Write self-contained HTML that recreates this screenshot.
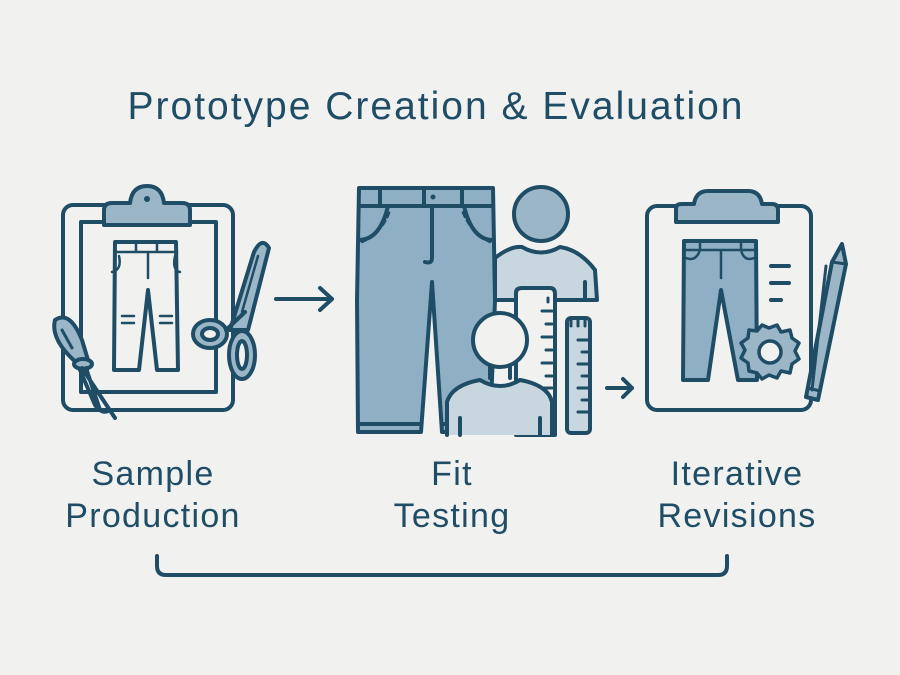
<!DOCTYPE html>
<html><head><style>
html,body{margin:0;padding:0;background:#f1f1f0;}
svg{display:block}
text{font-family:"Liberation Sans",sans-serif;fill:#1f4d66}
</style></head><body>
<svg width="900" height="675" viewBox="0 0 900 675" xmlns="http://www.w3.org/2000/svg">
<rect width="900" height="675" fill="#f1f1f0"/>
<text x="436" y="119" font-size="39" letter-spacing="2" text-anchor="middle">Prototype Creation &amp; Evaluation</text>
<g stroke="#1f4d66" stroke-width="4" stroke-linejoin="round" stroke-linecap="round" fill="none">
<!-- clipboard 1 -->
<rect x="63" y="205" width="170" height="205" rx="10" fill="#f1f1f0"/>
<rect x="81" y="222" width="135" height="170" fill="#f1f1f0"/>
<path d="M104 225 V210 Q104 203 112 203 H130 Q132 186 147 186 Q162 186 164 203 H182 Q190 203 190 210 V225 Z" fill="#9ab6c7"/>
<circle cx="147" cy="199" r="3" fill="#1f4d66" stroke="none"/>
<path d="M115 242 H176 L178 370 H157 L148 290 L139 370 H114 Z" fill="#f1f1f0"/>
<path d="M115 252 H177 M136 242 V252 M157 242 V252 M148 252 V278 M119 256 Q122 270 112 272 M175 256 Q172 270 180 272" stroke-width="2.5"/>
<path d="M122 316 H134 M122 323 H134 M160 316 H172 M160 323 H172" stroke-width="2.5"/>
<!-- scissors -->
<path d="M230 330 L254 252 Q262 236 269 248 L248 330 Z" fill="#9ab6c7"/>
<path d="M258 256 L242 312" stroke-width="2.5"/>
<ellipse cx="210" cy="334" rx="17" ry="14" fill="#9ab6c7"/>
<ellipse cx="210" cy="334" rx="8" ry="6" fill="#f1f1f0"/>
<ellipse cx="242" cy="355" rx="13" ry="24" fill="#9ab6c7"/>
<ellipse cx="242" cy="355" rx="5" ry="14" fill="#f1f1f0"/>
<path d="M226 330 L245 312"/>
<!-- awl -->
<path d="M55 320 Q70 310 82 340 L88 360 L78 364 Q50 340 55 320Z" fill="#9ab6c7"/>
<path d="M62 330 L72 348" stroke-width="3"/>
<ellipse cx="83" cy="364" rx="9" ry="5" fill="#9ab6c7"/>
<path d="M82 368 L115 418 M86 368 L100 410 M80 370 L95 405 Q102 415 110 410"/>
<!-- arrow 1 -->
<path d="M276 299 H332 M320 288 L332 299 L320 310"/>
<!-- back person -->
<circle cx="541" cy="214" r="27" fill="#9ab6c7"/>
<path d="M495 258 Q510 246 522 247 Q541 258 560 247 Q580 250 595 270 L597 300 H585 V282 L585 300 H495 Z" fill="#c8d7df"/>
<!-- big jeans -->
<path d="M359 188 H493 L495 300 L490 432 H442 L432 282 L421 432 H358 L357 300 Z" fill="#8fb0c4"/>
<path d="M359 206 H493 M380 188 V206 M424 188 V206 M462 188 V206 M432 206 V258 Q432 264 425 262 M359 240 Q380 240 388 206 M493 240 Q472 240 464 206 M358 424 H421 M442 424 H490"/>
<path d="M362 242 Q383 232 390 210 M490 242 Q470 232 462 210" stroke-width="2.5" stroke-dasharray="5 4"/>
<circle cx="433" cy="197" r="2.5" fill="#1f4d66" stroke="none"/>
<!-- rulers -->
<path d="M516 293 Q516 288 522 288 H550 Q555 288 555 294 V435 H516 Z" fill="#f1f1f0"/>
<path d="M548 298 V302 M542 311 H552 M546 324 H552 M542 337 H552 M546 350 H552 M542 363 H552 M546 376 H552 M542 388 H552" stroke-width="3"/>
<rect x="567" y="318" width="23" height="115" rx="4" fill="#c8d7df"/>
<path d="M571 318 V326 M578 318 V326 M585 318 V326 M578 340 H588 M582 352 H588 M578 364 H588 M582 376 H588 M578 388 H588 M582 400 H588 M578 412 H588" stroke-width="3"/>
<!-- front person -->
<path d="M447 435 V402 Q452 385 480 380 Q500 392 520 380 Q548 385 552 402 V435" fill="#c8d7df"/>
<path d="M460 435 V418 M540 435 V418"/>
<circle cx="500" cy="340" r="27" fill="#f1f1f0"/>
<path d="M490 366 V378 M510 366 V378"/>
<!-- arrow 2 -->
<path d="M607 388 H632 M623 379 L632 388 L623 397"/>
<!-- clipboard 3 -->
<rect x="647" y="206" width="164" height="204" rx="10" fill="#f1f1f0"/>
<path d="M676 222 V208 Q676 204 682 204 H694 Q696 191 708 191 H748 Q760 191 762 204 H772 Q778 204 778 210 V222 Z" fill="#9ab6c7"/>
<path d="M684 241 H756 L757 380 H738 L721 290 L708 380 H683 Z" fill="#8fb0c4"/>
<path d="M684 250 H756 M700 241 V250 M741 241 V250 M721 250 V278 M686 258 Q696 262 700 250 M754 258 Q744 262 741 250" stroke-width="2.5"/>
<path d="M771 266 H789 M771 283 H789 M771 300 H781"/>
<path d="M777 325 L781 332 L790 330 L792 338 L799 343 L795 351 L799 359 L792 364 L790 373 L781 371 L777 378 L769 375 L762 379 L757 373 L749 371 L748 363 L741 358 L745 350 L741 343 L748 338 L749 330 L757 331 L762 325 L769 328 Z" fill="#9ab6c7" stroke-width="3.5"/>
<circle cx="770" cy="352" r="11" fill="#f1f1f0" stroke-width="3.5"/>
<path d="M832 262 L842 244 L846 264 L818 400 L806 397 Z" fill="#9ab6c7"/>
<path d="M832 262 L846 264 M808 388 L820 391 M826 266 L812 390" stroke-width="3"/>
<!-- bracket -->
<path d="M157 556 V566 Q157 575 166 575 H718 Q727 575 727 566 V556"/>
</g>
<g font-size="34" letter-spacing="1.3" text-anchor="middle">
<text x="153" y="485">Sample</text>
<text x="153" y="527">Production</text>
<text x="452" y="485">Fit</text>
<text x="452" y="527">Testing</text>
<text x="737" y="485">Iterative</text>
<text x="737" y="527">Revisions</text>
</g>
</svg>
</body></html>
